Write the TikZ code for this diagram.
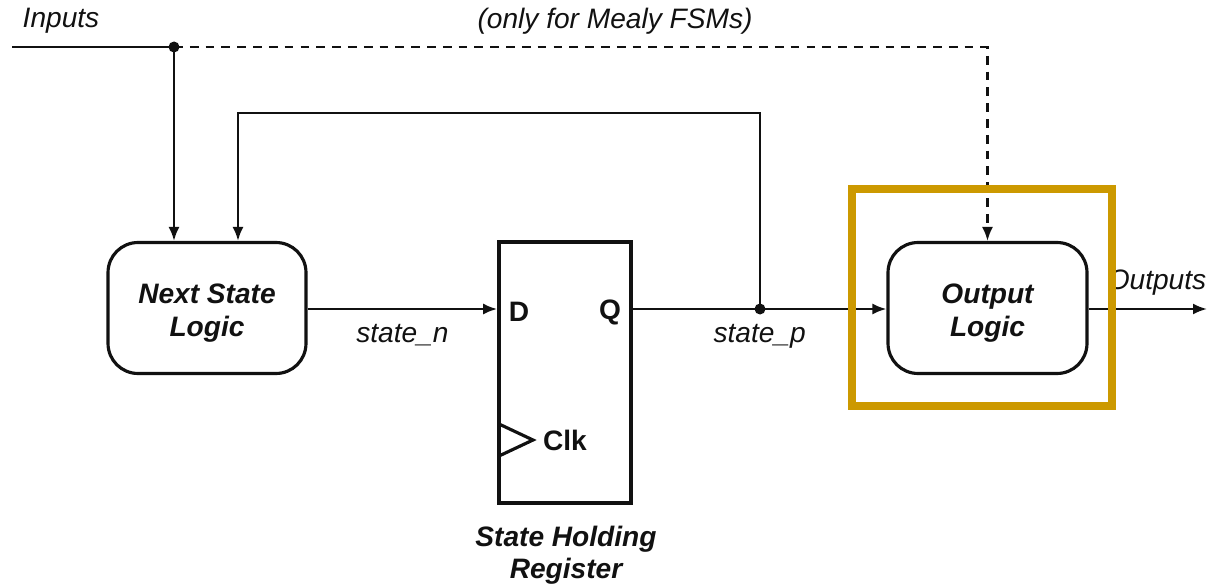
\documentclass[tikz,border=0pt]{standalone}
\usepackage{fontspec}
\setsansfont{Liberation Sans}
\usetikzlibrary{arrows.meta, positioning}
\definecolor{framegold}{HTML}{CC9900}
\definecolor{ink}{HTML}{111111}

\begin{document}
\begin{tikzpicture}[x=0.02cm, y=-0.02cm, font=\sffamily\fontsize{16}{19}\selectfont,
    >={Latex[length=2.8mm, width=2.2mm]}, line width=1.3pt, color=ink]
\useasboundingbox (0,0) rectangle (1207,588);
% logic blocks
\node[draw, line width=1.8pt, rounded corners=0.6cm, minimum width=3.96cm, minimum height=2.62cm,
      align=center, font=\sffamily\bfseries\itshape\fontsize{16}{19}\selectfont] (nsl) at (207,308)
  {\raisebox{-3pt}[\height][\depth]{\begin{tabular}{@{}c@{}}Next State\\Logic\end{tabular}}};
\node[draw, line width=1.8pt, rounded corners=0.6cm, minimum width=3.98cm, minimum height=2.62cm,
      align=center, font=\sffamily\bfseries\itshape\fontsize{16}{19}\selectfont] (outl) at (987.5,308)
  {\raisebox{-3pt}[\height][\depth]{\begin{tabular}{@{}c@{}}Output\\Logic\end{tabular}}};
\node[draw, line width=2.1pt, minimum width=2.64cm, minimum height=5.22cm] (reg) at (565,372.5) {};
\node[font=\sffamily\bfseries\fontsize{16}{19}\selectfont] (dpin) at (519,312) {D};
\node[font=\sffamily\bfseries\fontsize{16}{19}\selectfont] (qpin) at (610,312) {Q};
\node[font=\sffamily\bfseries\fontsize{16}{19}\selectfont] (clk) at (565,440) {Clk};
\draw[line width=1.8pt] (499,424) -- (533,440) -- (499,456);
\node[align=center, font=\sffamily\bfseries\itshape\fontsize{16}{19}\selectfont] (regname) at (566,555)
  {State Holding\\[-1pt]Register};
% wires
\coordinate (inl) at (12,47);
\coordinate (indot) at (174,47);
\coordinate (fbtop) at (238,113);
\coordinate (qdot) at (760,309);
\coordinate (outend) at (1207,309);
\node[font=\sffamily\itshape\fontsize{16}{19}\selectfont] (inputs) at (61,21) {Inputs};
\node[font=\sffamily\itshape\fontsize{16}{19}\selectfont] (mealy) at (615,21) {(only for Mealy FSMs)};
\draw (inl) -- (indot);
\draw[->] (indot) -- (indot |- nsl.north);
\draw[->, line width=1.2pt, dash pattern=on 5pt off 4pt] (indot) -| (outl.north);
\draw[->] (qdot) |- (fbtop) -- (fbtop |- nsl.north);
\draw[->] (nsl.east |- qdot) -- node[below=5pt, font=\sffamily\itshape\fontsize{16}{19}\selectfont] (sn) {state\_n} (reg.west |- qdot);
\draw[->] (reg.east |- qdot) -- node[below=5pt, font=\sffamily\itshape\fontsize{16}{19}\selectfont] (sp) {state\_p} (outl.west |- qdot);
\draw[->] (outl.east |- qdot) -- (outend);
\fill (indot) circle[radius=0.11cm];
\fill (qdot) circle[radius=0.11cm];
\node[font=\sffamily\itshape\fontsize{16}{19}\selectfont] (outs) at (1157,283) {Outputs};
% highlight
\draw[framegold, line width=5pt] (852,189) rectangle (1112,406);
\end{tikzpicture}
\end{document}
